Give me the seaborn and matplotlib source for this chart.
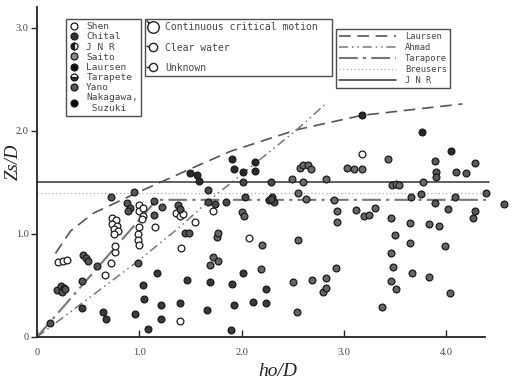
import numpy as np
import pandas as pd
import matplotlib
matplotlib.use("Agg")
import matplotlib.pyplot as plt
import seaborn as sns
from matplotlib.lines import Line2D
from matplotlib.path import Path

# ---------------- data ----------------
shen_x = [0.21, 0.25, 0.29, 0.66, 0.72, 0.76, 0.76, 0.73, 0.77, 0.73, 0.78, 0.75, 0.79, 0.75,
          1.00, 1.00, 1.04, 1.03, 1.04, 1.00, 0.99, 0.99, 1.00, 1.15, 1.36, 1.40, 1.43,
          1.41, 1.54, 1.72, 2.07, 1.40, 3.18]
shen_y = [0.73, 0.74, 0.75, 0.60, 0.72, 0.82, 0.88, 1.15, 1.13, 1.10, 1.08, 1.05, 1.03, 1.00,
          1.28, 1.22, 1.17, 1.14, 1.25, 1.07, 1.00, 0.94, 0.89, 1.07, 1.20, 1.17, 1.19,
          0.86, 1.12, 1.22, 0.96, 0.16, 1.77]

chitale_x = [0.20, 0.23, 0.26, 0.24, 0.27, 0.45, 0.48, 0.50, 0.59, 0.44, 0.13,
             0.72, 0.88, 0.91, 0.89, 0.95, 0.99, 1.14, 1.22, 1.14, 1.38, 1.40, 1.45, 1.49]
chitale_y = [0.46, 0.49, 0.48, 0.44, 0.47, 0.80, 0.77, 0.74, 0.69, 0.54, 0.14,
             1.36, 1.30, 1.25, 1.22, 1.41, 0.72, 1.32, 1.26, 1.18, 1.28, 1.24, 1.01, 1.01]

jnr_x = [2.00, 2.02, 1.76, 1.77, 1.69, 1.72, 1.77, 2.93, 2.93, 3.12, 3.20, 3.25, 3.30,
         3.46, 3.65, 3.83, 3.93, 3.50, 3.65, 3.99, 3.46, 3.48, 3.67, 3.83, 3.46, 3.51,
         3.37, 4.04, 2.55, 2.20, 2.19, 2.92, 2.83, 2.69, 2.50, 2.80, 2.83, 2.54]
jnr_y = [1.21, 1.17, 0.97, 1.01, 0.70, 0.78, 0.74, 1.22, 1.12, 1.23, 1.17, 1.18, 1.25,
         1.15, 1.11, 1.10, 1.08, 0.99, 0.91, 0.88, 0.81, 0.68, 0.62, 0.58, 0.54, 0.47,
         0.29, 0.43, 0.94, 0.89, 0.66, 0.67, 0.57, 0.55, 0.53, 0.44, 0.48, 0.24]

saito_x = [2.57, 2.60, 2.65, 2.68, 2.49, 2.60, 2.83, 2.55, 2.63, 2.90, 3.03, 3.10, 3.18,
           3.43, 3.47, 3.51, 3.54, 3.77]
saito_y = [1.64, 1.67, 1.67, 1.63, 1.53, 1.50, 1.53, 1.40, 1.34, 1.33, 1.64, 1.63, 1.63,
           1.73, 1.47, 1.48, 1.47, 1.50]

laursen_x = [3.18, 3.76, 4.05, 1.50, 1.56, 1.58, 1.91, 1.93, 2.01, 2.13, 2.13]
laursen_y = [2.15, 1.99, 1.80, 1.59, 1.57, 1.51, 1.73, 1.63, 1.60, 1.70, 1.61]

tarapore_x = [1.67, 1.67, 1.74, 1.85, 2.01, 2.03, 2.29, 2.27, 2.30, 2.32, 2.29]
tarapore_y = [1.43, 1.31, 1.29, 1.31, 1.50, 1.36, 1.50, 1.33, 1.36, 1.31, 1.34]

yano_x = [3.89, 4.28, 3.90, 3.90, 4.10, 4.19, 3.66, 3.75, 3.89, 4.02, 4.09, 4.39, 4.57, 4.26, 4.28]
yano_y = [1.71, 1.69, 1.60, 1.55, 1.60, 1.59, 1.36, 1.39, 1.30, 1.24, 1.36, 1.40, 1.29, 1.15, 1.22]

nakagawa_x = [0.44, 0.65, 0.67, 0.96, 1.09, 1.04, 1.05, 1.17, 1.21, 1.21, 1.40, 1.47, 1.69,
              1.66, 1.91, 2.01, 1.93, 1.90, 2.11, 2.24, 2.24]
nakagawa_y = [0.28, 0.24, 0.17, 0.22, 0.08, 0.50, 0.37, 0.62, 0.31, 0.17, 0.33, 0.55, 0.53,
              0.26, 0.51, 0.62, 0.31, 0.07, 0.34, 0.33, 0.47]

# curves
laursen_cx = [0.18, 0.33, 0.55, 0.98, 1.50, 1.89, 2.54, 3.18, 4.16]
laursen_cy = [0.81, 1.03, 1.20, 1.40, 1.63, 1.80, 2.01, 2.15, 2.26]
ahmad_cx = [0.0, 0.98, 1.40, 1.69, 1.98, 2.54, 2.81]
ahmad_cy = [0.0, 0.73, 1.07, 1.33, 1.56, 2.01, 2.25]
tarapore_cx = [0.0, 1.17, 4.42]
tarapore_cy = [0.0, 1.33, 1.33]
breusers_cx = [0.0, 4.42]
breusers_cy = [1.40, 1.40]
jnr_cx = [0.0, 4.42]
jnr_cy = [1.50, 1.50]

x_ticks = [0, 1, 2, 3, 4]
x_tick_labels = ["0", "1.0", "2.0", "3.0", "4.0"]
y_ticks = [0, 1, 2, 3]
y_tick_labels = ["0", "1.0", "2.0", "3.0"]

# ---------------- figure ----------------
sns.set_style("white")
plt.rcParams["font.family"] = ["DejaVu Sans"]

W, H = 526, 380
fig = plt.figure(figsize=(W / 100, H / 100), dpi=100)
ax = fig.add_axes([37 / W, 43 / H, 448 / W, 330 / H])

mono = "DejaVu Sans Mono"
serif = "Liberation Serif"

def curve(x, y, ls, color, lw):
    sns.lineplot(x=x, y=y, ax=ax, sort=False, color=color, linewidth=lw,
                 linestyle=ls, estimator=None, clip_on=False)

curve(laursen_cx, laursen_cy, (0, (7, 4)), "#555555", 1.2)
curve(ahmad_cx, ahmad_cy, (0, (6, 2.5, 1, 2.5, 1, 2.5)), "#777777", 1.1)
curve(tarapore_cx, tarapore_cy, (0, (9, 2.5, 1.5, 2.5)), "#777777", 1.5)
curve(breusers_cx, breusers_cy, (0, (1, 2)), "#aaaaaa", 0.9)
curve(jnr_cx, jnr_cy, "-", "#444444", 1.2)

series = [
    (shen_x, shen_y, "white"),
    (chitale_x, chitale_y, "#555555"),
    (jnr_x, jnr_y, "#666666"),
    (saito_x, saito_y, "#6a6a6a"),
    (laursen_x, laursen_y, "#2a2a2a"),
    (tarapore_x, tarapore_y, "#4a4a4a"),
    (yano_x, yano_y, "#5a5a5a"),
    (nakagawa_x, nakagawa_y, "#3a3a3a"),
]
for xs, ys, fc in series:
    sns.scatterplot(x=xs, y=ys, ax=ax, s=24, color=fc, edgecolor="#1a1a1a",
                    linewidth=0.9, clip_on=False, zorder=3)

ax.set_xlim(0, 4.38)
ax.set_ylim(0, 3.2)
ax.set_xticks(x_ticks)
ax.set_xticklabels(x_tick_labels, family=serif, fontsize=7.5, color="#444444")
ax.set_yticks(y_ticks)
ax.set_yticklabels(y_tick_labels, family=serif, fontsize=7.5, color="#444444")
ax.tick_params(axis="x", direction="in", length=5, width=1, pad=8, bottom=True)
ax.tick_params(axis="y", direction="out", length=4, width=1, pad=2, left=True)
for s in ["top", "right"]:
    ax.spines[s].set_visible(False)
for s in ["left", "bottom"]:
    ax.spines[s].set_color("#222222")
    ax.spines[s].set_linewidth(1.3)

ax.set_xlabel("ho/D", family=serif, fontstyle="italic", fontsize=14, color="#222222")
ax.xaxis.set_label_coords(0.538, -0.08)
ax.set_ylabel("Zs/D", family=serif, fontstyle="italic", fontsize=13.5, color="#222222")
ax.yaxis.set_label_coords(-0.035, 0.53)

# ---------------- legends ----------------
def mk(fc, fs="full"):
    return Line2D([], [], linestyle="none", marker="o", markersize=5,
                  markerfacecolor=fc, markeredgecolor="#1a1a1a",
                  markerfacecoloralt="white", fillstyle=fs, markeredgewidth=0.9)

h1 = [mk("white"), mk("#333333"), mk("#222222", "left"), mk("#888888"),
      mk("#111111"), mk("#333333", "bottom"), mk("#555555"), mk("#000000")]
l1 = ["Shen", "Chital", "J N R", "Saito", "Laursen", "Tarapete", "Yano",
      "Nakagawa,\n Suzuki"]
leg1 = ax.legend(h1, l1, loc="upper left", bbox_to_anchor=(66 / W, 1 - 19 / H),
                 bbox_transform=fig.transFigure, prop={"family": mono, "size": 6.8},
                 frameon=True, fancybox=False, edgecolor="#222222",
                 handlelength=1.0, handletextpad=0.8, labelspacing=0.12,
                 borderpad=0.35, borderaxespad=0)
leg1.get_frame().set_linewidth(1.0)
for t in leg1.get_texts():
    t.set_color("#444444")
ax.add_artist(leg1)

def stub_marker(angle_deg, length=1.7):
    circ = Path.unit_circle()
    a = np.deg2rad(angle_deg)
    seg = Path([[np.cos(a), np.sin(a)], [length * np.cos(a), length * np.sin(a)]],
               [Path.MOVETO, Path.LINETO])
    return Path.make_compound_path(circ, seg)

h2 = [Line2D([], [], linestyle="none", marker=stub_marker(a), markersize=10,
             markerfacecolor="white", markeredgecolor="#222222", markeredgewidth=1.0)
      for a in (135, 170, 180)]
l2 = ["Continuous critical motion", "Clear water", "Unknown"]
top2 = 1 - 19 / H
leg2 = ax.legend(h2, l2, loc="upper left",
                 bbox_to_anchor=(145 / W, top2 - 0.1, 187 / W, 0.1),
                 bbox_transform=fig.transFigure, mode="expand",
                 prop={"family": mono, "size": 7.0},
                 frameon=True, fancybox=False, edgecolor="#222222",
                 handlelength=1.0, handletextpad=0.7, labelspacing=1.05,
                 borderpad=0.35, borderaxespad=0)
leg2.get_frame().set_linewidth(1.0)
for t in leg2.get_texts():
    t.set_color("#444444")
ax.add_artist(leg2)

h3 = [Line2D([], [], color="#555555", lw=1.2, linestyle=(0, (7, 4))),
      Line2D([], [], color="#777777", lw=1.1, linestyle=(0, (6, 2.5, 1, 2.5, 1, 2.5))),
      Line2D([], [], color="#777777", lw=1.5, linestyle=(0, (9, 2.5, 1.5, 2.5))),
      Line2D([], [], color="#aaaaaa", lw=0.9, linestyle=(0, (1, 2))),
      Line2D([], [], color="#444444", lw=1.2, linestyle="-")]
l3 = ["Laursen", "Ahmad", "Tarapore", "Breusers", "J N R"]
leg3 = ax.legend(h3, l3, loc="upper left", bbox_to_anchor=(336 / W, 1 - 29 / H),
                 bbox_transform=fig.transFigure, prop={"family": mono, "size": 6.3},
                 frameon=True, fancybox=False, edgecolor="#222222",
                 handlelength=6.6, handletextpad=1.0, labelspacing=0.25,
                 borderpad=0.3, borderaxespad=0)
leg3.get_frame().set_linewidth(1.0)
for t in leg3.get_texts():
    t.set_color("#444444")

fig.savefig("out.png", dpi=100, facecolor="white")
